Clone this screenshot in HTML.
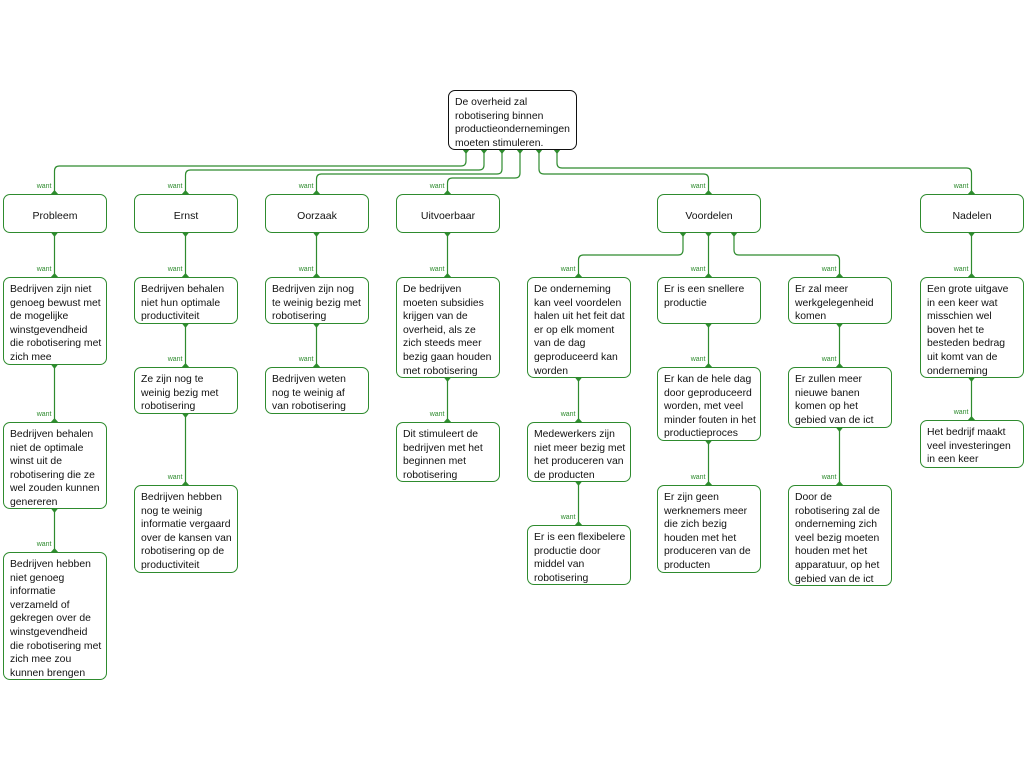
<!DOCTYPE html>
<html><head><meta charset="utf-8"><style>
body{margin:0;width:1024px;height:768px;background:#fff;position:relative;overflow:hidden;font-family:"Liberation Sans",sans-serif}
.b{position:absolute;box-sizing:border-box;border:1px solid #2e8b2e;border-radius:7px;background:#fff;font-size:10.4px;line-height:13.6px;color:#111;padding:5px 6px 0 6px;width:104px;white-space:nowrap;overflow:hidden}
.h{text-align:center;font-size:10.5px;padding:0;line-height:42px;height:39px;top:194px}
.r{border-color:#111;width:129px}
svg{position:absolute;left:0;top:0}
</style></head><body>
<svg width="1024" height="768" fill="none" stroke="#2e8b2e" stroke-width="1.2">
<path d="M466 149V161Q466 166 461 166H59.5Q54.5 166 54.5 171V194"/>
<path d="M484 149V165Q484 170 479 170H190.5Q185.5 170 185.5 175V194"/>
<path d="M502 149V169Q502 174 497 174H321.5Q316.5 174 316.5 179V194"/>
<path d="M520 149V173Q520 178 515 178H452.5Q447.5 178 447.5 183V194"/>
<path d="M539 149V169Q539 174 544 174H703.5Q708.5 174 708.5 179V194"/>
<path d="M557 149V163Q557 168 562 168H966.5Q971.5 168 971.5 173V194"/>
<path d="M683 232V250Q683 255 678 255H583.5Q578.5 255 578.5 260V277"/>
<path d="M708.5 232V277"/>
<path d="M734 232V250Q734 255 739 255H834.5Q839.5 255 839.5 260V277"/>
<path d="M54.5 232V277M54.5 364V422M54.5 508V552"/>
<path d="M185.5 232V277M185.5 323V367M185.5 413V485"/>
<path d="M316.5 232V277M316.5 323V367"/>
<path d="M447.5 232V277M447.5 377V422"/>
<path d="M578.5 377V422M578.5 481V525"/>
<path d="M708.5 323V367M708.5 440V485"/>
<path d="M839.5 323V367M839.5 427V485"/>
<path d="M971.5 232V277M971.5 377V420"/>
</svg>
<svg width="1024" height="768" fill="#2e8b2e" stroke="none" id="arr"></svg>
<svg width="1024" height="768" font-family="Liberation Sans" font-size="7" fill="#2e8b2e" text-anchor="end" id="lbl"></svg>

<div class="b r" style="left:448px;top:90px;height:60px">De overheid zal<br>robotisering binnen<br>productieondernemingen<br>moeten stimuleren.</div>

<div class="b h" style="left:3px">Probleem</div>
<div class="b h" style="left:134px">Ernst</div>
<div class="b h" style="left:265px">Oorzaak</div>
<div class="b h" style="left:396px">Uitvoerbaar</div>
<div class="b h" style="left:657px">Voordelen</div>
<div class="b h" style="left:920px">Nadelen</div>

<div class="b" style="left:3px;top:277px;height:88px">Bedrijven zijn niet<br>genoeg bewust met<br>de mogelijke<br>winstgevendheid<br>die robotisering met<br>zich mee</div>
<div class="b" style="left:3px;top:422px;height:87px">Bedrijven behalen<br>niet de optimale<br>winst uit de<br>robotisering die ze<br>wel zouden kunnen<br>genereren</div>
<div class="b" style="left:3px;top:552px;height:128px">Bedrijven hebben<br>niet genoeg<br>informatie<br>verzameld of<br>gekregen over de<br>winstgevendheid<br>die robotisering met<br>zich mee zou<br>kunnen brengen</div>

<div class="b" style="left:134px;top:277px;height:47px">Bedrijven behalen<br>niet hun optimale<br>productiviteit</div>
<div class="b" style="left:134px;top:367px;height:47px">Ze zijn nog te<br>weinig bezig met<br>robotisering</div>
<div class="b" style="left:134px;top:485px;height:88px">Bedrijven hebben<br>nog te weinig<br>informatie vergaard<br>over de kansen van<br>robotisering op de<br>productiviteit</div>

<div class="b" style="left:265px;top:277px;height:47px">Bedrijven zijn nog<br>te weinig bezig met<br>robotisering</div>
<div class="b" style="left:265px;top:367px;height:47px">Bedrijven weten<br>nog te weinig af<br>van robotisering</div>

<div class="b" style="left:396px;top:277px;height:101px">De bedrijven<br>moeten subsidies<br>krijgen van de<br>overheid, als ze<br>zich steeds meer<br>bezig gaan houden<br>met robotisering</div>
<div class="b" style="left:396px;top:422px;height:60px">Dit stimuleert de<br>bedrijven met het<br>beginnen met<br>robotisering</div>

<div class="b" style="left:527px;top:277px;height:101px">De onderneming<br>kan veel voordelen<br>halen uit het feit dat<br>er op elk moment<br>van de dag<br>geproduceerd kan<br>worden</div>
<div class="b" style="left:527px;top:422px;height:60px">Medewerkers zijn<br>niet meer bezig met<br>het produceren van<br>de producten</div>
<div class="b" style="left:527px;top:525px;height:60px">Er is een flexibelere<br>productie door<br>middel van<br>robotisering</div>

<div class="b" style="left:657px;top:277px;height:47px">Er is een snellere<br>productie</div>
<div class="b" style="left:657px;top:367px;height:74px">Er kan de hele dag<br>door geproduceerd<br>worden, met veel<br>minder fouten in het<br>productieproces</div>
<div class="b" style="left:657px;top:485px;height:88px">Er zijn geen<br>werknemers meer<br>die zich bezig<br>houden met het<br>produceren van de<br>producten</div>

<div class="b" style="left:788px;top:277px;height:47px">Er zal meer<br>werkgelegenheid<br>komen</div>
<div class="b" style="left:788px;top:367px;height:61px">Er zullen meer<br>nieuwe banen<br>komen op het<br>gebied van de ict</div>
<div class="b" style="left:788px;top:485px;height:101px">Door de<br>robotisering zal de<br>onderneming zich<br>veel bezig moeten<br>houden met het<br>apparatuur, op het<br>gebied van de ict</div>

<div class="b" style="left:920px;top:277px;height:101px">Een grote uitgave<br>in een keer wat<br>misschien wel<br>boven het te<br>besteden bedrag<br>uit komt van de<br>onderneming</div>
<div class="b" style="left:920px;top:420px;height:48px">Het bedrijf maakt<br>veel investeringen<br>in een keer</div>

<script>
var ends=[[54.5,194],[185.5,194],[316.5,194],[447.5,194],[708.5,194],[971.5,194],
[578.5,277],[708.5,277],[839.5,277],[971.5,277],
[54.5,277],[54.5,422],[54.5,552],[185.5,277],[185.5,367],[185.5,485],[316.5,277],[316.5,367],
[447.5,277],[447.5,422],[578.5,422],[578.5,525],[708.5,367],[708.5,485],[839.5,367],[839.5,485],[971.5,420]];
var starts=[[466,150],[484,150],[502,150],[520,150],[539,150],[557,150],[683,233],[708.5,233],[734,233],
[54.5,233],[185.5,233],[316.5,233],[447.5,233],[971.5,233],
[54.5,365],[54.5,509],[185.5,324],[185.5,414],[316.5,324],[447.5,378],[578.5,378],[578.5,482],[708.5,324],[708.5,441],[839.5,324],[839.5,428],[971.5,378]];
var a='',l='';
ends.forEach(function(p){a+='<path d="M'+(p[0]-4)+' '+(p[1]+0.5)+'L'+(p[0]+4)+' '+(p[1]+0.5)+'L'+p[0]+' '+(p[1]-4)+'Z"/>';
l+='<text x="'+(p[0]-3)+'" y="'+(p[1]-6)+'">want</text>';});
starts.forEach(function(p){a+='<path d="M'+(p[0]-3.5)+' '+(p[1]-0.5)+'L'+(p[0]+3.5)+' '+(p[1]-0.5)+'L'+p[0]+' '+(p[1]+4)+'Z"/>';});
document.getElementById('arr').innerHTML=a;document.getElementById('lbl').innerHTML=l;
</script>
</body></html>
